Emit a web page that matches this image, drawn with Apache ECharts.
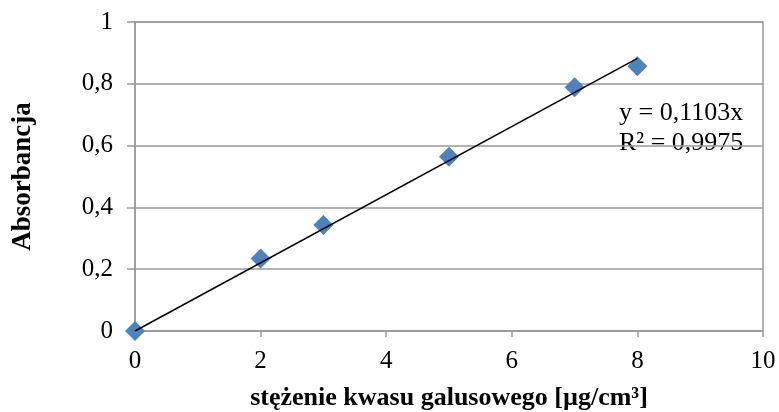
<!DOCTYPE html>
<html><head><meta charset="utf-8">
<script src="https://cdn.jsdelivr.net/npm/echarts@6/dist/echarts.min.js"></script>
<style>html,body{margin:0;padding:0;background:#fff}#c{width:779px;height:412px}</style>
</head><body><div id="c"></div>
<script>
const xValues = [0, 2, 3, 5, 7, 8];
const yValues = [0, 0.235, 0.343, 0.564, 0.789, 0.857];
const slope = 0.1103;
const trendX = [0, 8];
const equationLines = ['y = 0,1103x', 'R² = 0,9975'];
const xTitle = 'stężenie kwasu galusowego [µg/cm³]';
const yTitle = 'Absorbancja';

const font = '"Liberation Serif", "Times New Roman", serif';
const fmt = v => String(v).replace('.', ',');
const chart = echarts.init(document.getElementById('c'), null, {renderer: 'canvas'});
chart.setOption({
  animation: false,
  grid: {left: 135, right: 16, top: 22, bottom: 81, containLabel: false, outerBoundsMode: 'none',
         show: true, borderColor: '#999', borderWidth: 1.5, backgroundColor: 'transparent'},
  xAxis: {
    type: 'value', min: 0, max: 10, interval: 2,
    axisLine: {show: true, onZero: false, lineStyle: {color: '#999', width: 1.5}},
    axisTick: {show: true, length: 6, lineStyle: {color: '#999', width: 1.5}},
    splitLine: {show: false},
    axisLabel: {fontFamily: font, fontSize: 25, color: '#000', margin: 18, formatter: fmt},
    name: xTitle, nameLocation: 'middle', nameGap: 54,
    nameTextStyle: {fontFamily: font, fontSize: 26, fontWeight: 'bold', color: '#000'}
  },
  yAxis: {
    type: 'value', min: 0, max: 1, interval: 0.2,
    axisLine: {show: true, lineStyle: {color: '#999', width: 1.5}},
    axisTick: {show: true, length: 8, lineStyle: {color: '#999', width: 1.5}},
    splitLine: {show: true, lineStyle: {color: '#999', width: 1.5}},
    axisLabel: {fontFamily: font, fontSize: 25, color: '#000', margin: 22, formatter: fmt},
    name: yTitle, nameLocation: 'middle', nameGap: 98,
    nameTextStyle: {fontFamily: font, fontSize: 27, fontWeight: 'bold', color: '#000'}
  },
  series: [
    {
      type: 'line', data: trendX.map(x => [x, slope * x]), symbol: 'none',
      lineStyle: {color: '#000', width: 1.5}, z: 3, silent: true
    },
    {
      type: 'scatter', data: xValues.map((x, i) => [x, yValues[i]]),
      symbol: 'diamond', symbolSize: [20, 20],
      itemStyle: {color: '#4F81BD', opacity: 1, borderWidth: 0}, z: 2
    }
  ],
  graphic: [{
    type: 'text', left: 619, top: 98,
    style: {text: equationLines.join('\n'), font: '26px ' + font, fill: '#000', lineHeight: 30}
  }]
});
</script></body></html>
